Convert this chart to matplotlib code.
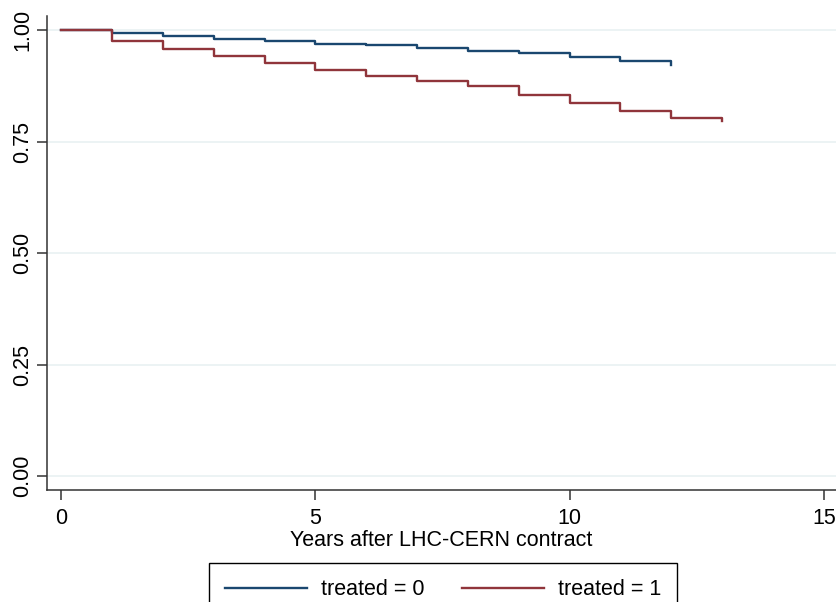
import matplotlib.pyplot as plt
import numpy as np

plt.rcParams['font.family'] = ['Liberation Sans', 'DejaVu Sans']

# Kaplan-Meier survival estimates
years_0 = [0, 1, 2, 3, 4, 5, 6, 7, 8, 9, 10, 11, 12]
surv_0 = [1.000, 0.994, 0.988, 0.981, 0.975, 0.969, 0.966, 0.961, 0.954, 0.948, 0.940, 0.930, 0.922]
years_1 = [0, 1, 2, 3, 4, 5, 6, 7, 8, 9, 10, 11, 12, 13]
surv_1 = [1.000, 0.976, 0.957, 0.943, 0.926, 0.910, 0.898, 0.887, 0.875, 0.854, 0.836, 0.819, 0.804, 0.797]

yticks = [0.0, 0.25, 0.5, 0.75, 1.0]
ytick_labels = ['0.00', '0.25', '0.50', '0.75', '1.00']
xticks = [0, 5, 10, 15]

navy = '#1a476f'
maroon = '#90353b'

fig = plt.figure(figsize=(8.36, 6.02), dpi=100)
ax = fig.add_axes([47 / 836, 1 - 490 / 602, 1 - 47 / 836, (490 - 16) / 602])

for y in yticks:
    ax.axhline(y, color='#eaf2f3', lw=1.3, zorder=0)

ax.step(years_0, surv_0, where='post', color=navy, lw=1.7, label='treated = 0')
ax.step(years_1, surv_1, where='post', color=maroon, lw=1.7, label='treated = 1')

ax.set_xlim(-0.28, 15.24)
ax.set_ylim(-0.031, 1.032)
ax.set_xticks(xticks)
ax.set_yticks(yticks)
ax.set_yticklabels(ytick_labels, rotation=90, va='center')
ax.tick_params(axis='both', labelsize=15.5, length=7, width=1.1, color='#333333')
ax.tick_params(axis='x', pad=6)
ax.tick_params(axis='y', pad=3)
ax.set_xlabel('Years after LHC-CERN contract', fontsize=15.5, labelpad=1)

for side in ['top', 'right']:
    ax.spines[side].set_visible(False)
for side in ['left', 'bottom']:
    ax.spines[side].set_color('#333333')
    ax.spines[side].set_linewidth(1.1)

fig.legend(loc='upper center', bbox_to_anchor=(443 / 836, 1 - 563 / 602), ncol=2,
           fontsize=15.5, frameon=True, fancybox=False, edgecolor='black',
           framealpha=1, borderaxespad=0, handlelength=3.8, handletextpad=0.65,
           columnspacing=1.75, borderpad=0.75)

fig.savefig('out.png', dpi=100)
